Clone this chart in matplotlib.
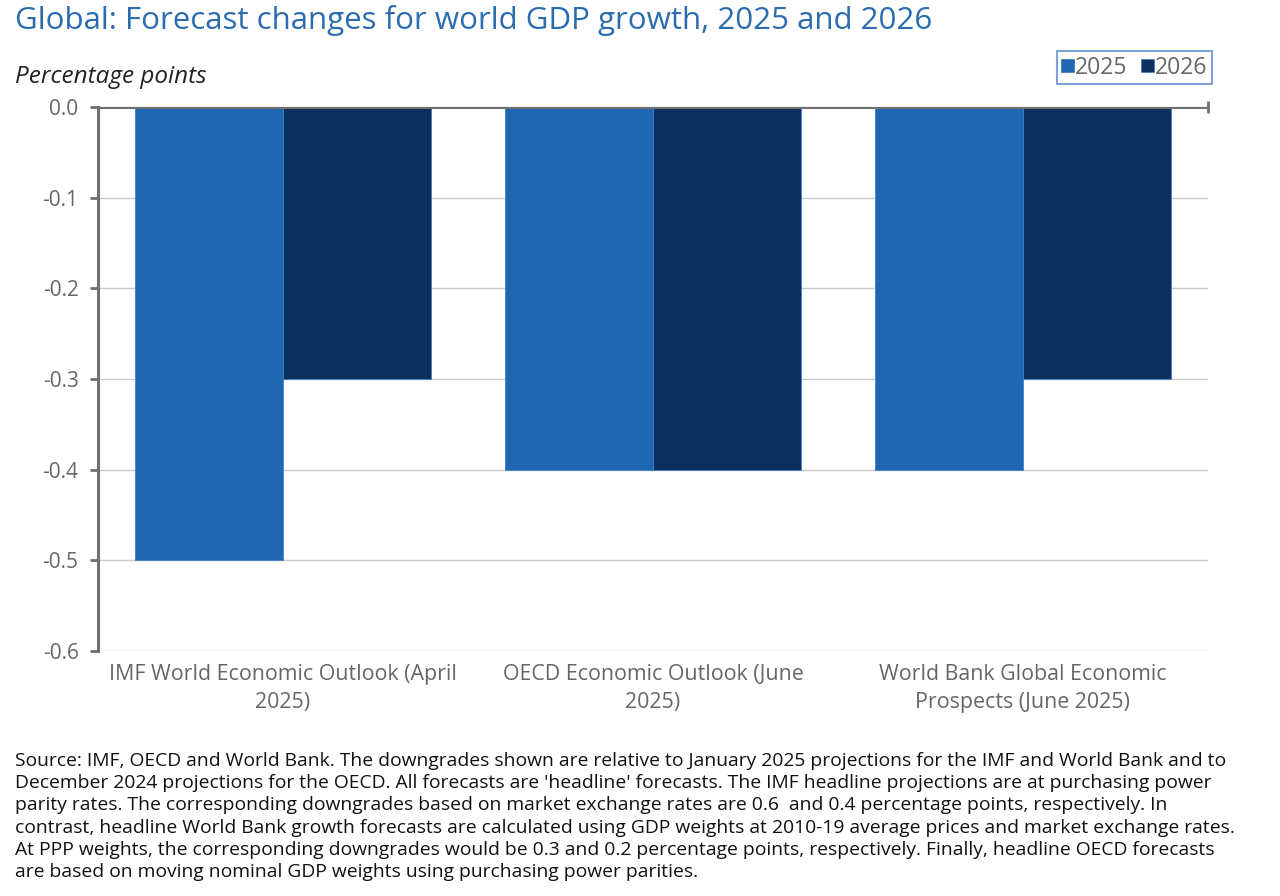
import matplotlib.pyplot as plt
import numpy as np

categories = ['IMF World Economic Outlook (April\n2025)',
              'OECD Economic Outlook (June\n2025)',
              'World Bank Global Economic\nProspects (June 2025)']
series_names = ['2025', '2026']
vals_2025 = [-0.5, -0.4, -0.4]
vals_2026 = [-0.3, -0.4, -0.3]
yticks = [0.0, -0.1, -0.2, -0.3, -0.4, -0.5, -0.6]

footnote = ("Source: IMF, OECD and World Bank. The downgrades shown are relative to January 2025 projections for the IMF and World Bank and to\n"
            "December 2024 projections for the OECD. All forecasts are 'headline' forecasts. The IMF headline projections are at purchasing power\n"
            "parity rates. The corresponding downgrades based on market exchange rates are 0.6  and 0.4 percentage points, respectively. In\n"
            "contrast, headline World Bank growth forecasts are calculated using GDP weights at 2010-19 average prices and market exchange rates.\n"
            "At PPP weights, the corresponding downgrades would be 0.3 and 0.2 percentage points, respectively. Finally, headline OECD forecasts\n"
            "are based on moving nominal GDP weights using purchasing power parities.")

plt.rcParams['font.family'] = ['Open Sans', 'DejaVu Sans']
c25, c26 = '#1f67b0', '#0d2f5e'
grey = '#666666'

fig = plt.figure(figsize=(12.8, 8.96), dpi=100)
ax = fig.add_axes([0.0766, 0.2734, 0.867, 0.6072])

x = np.arange(len(categories))
w = 0.4
ax.bar(x - w / 2, vals_2025, w, color=c25, edgecolor='#3d82cc', linewidth=0.6, label=series_names[0], zorder=3)
ax.bar(x + w / 2, vals_2026, w, color=c26, edgecolor='#3d82cc', linewidth=0.6, label=series_names[1], zorder=3)

ax.set_xlim(-0.5, len(categories) - 0.5)
ax.set_ylim(-0.6, 0.0)
ax.set_yticks(yticks)
ax.set_yticklabels([f'{v:.1f}' for v in yticks], fontsize=15, color=grey)
ax.set_xticks(x)
ax.set_xticklabels(categories, fontsize=15.4, color=grey, linespacing=1.45)
ax.tick_params(axis='x', length=0, pad=9)
ax.tick_params(axis='y', length=6, width=2, color='#707070', pad=8)
ax.grid(axis='y', color='#c8c8c8', linewidth=1, zorder=0)

for s in ['right', 'bottom']:
    ax.spines[s].set_visible(False)
ax.spines['left'].set_color('#707070')
ax.spines['left'].set_linewidth(2.2)
ax.axhline(0, color='#707070', linewidth=2.2, zorder=4)
ax.plot([len(categories) - 0.5], [0], marker='|', markersize=8, color='#707070', mew=2, zorder=4, clip_on=False)

leg = ax.legend(loc='lower right', bbox_to_anchor=(1.004, 1.042), ncol=2, frameon=True, fancybox=False,
                fontsize=16.5, handlelength=0.55, handleheight=0.55, handletextpad=0.05, columnspacing=0.6,
                borderpad=0.2, borderaxespad=0)
leg.get_frame().set_edgecolor('#5b8fcc')
leg.get_frame().set_linewidth(1.5)
for t in leg.get_texts():
    t.set_color(grey)

fig.text(0.012, 0.977, 'Global: Forecast changes for world GDP growth, 2025 and 2026',
         fontsize=22.5, color='#2b6cb0', va='center', ha='left')
fig.text(0.012, 0.914, 'Percentage points', fontsize=17.5, style='italic', color='#222222', va='center', ha='left')
fig.text(0.012, 0.161, footnote, fontsize=13.9, color='#111111', va='top', ha='left', linespacing=1.31)

fig.savefig('out.png', dpi=100)
